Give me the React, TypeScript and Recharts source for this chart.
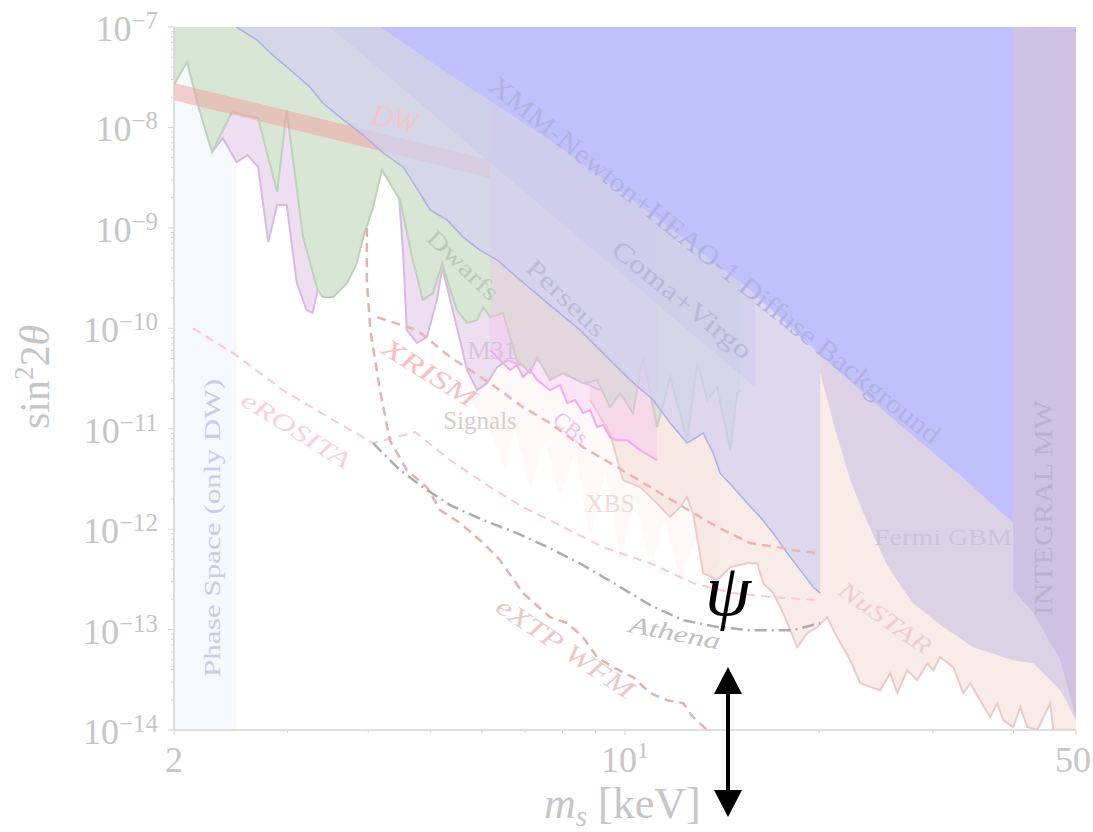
import React from 'react';
import { ComposedChart, Area, Line, XAxis, YAxis } from 'recharts';

// ---------- axes ----------
const yMajor = [1e-14, 1e-13, 1e-12, 1e-11, 1e-10, 1e-9, 1e-8, 1e-7];
const yExp = ['−14', '−13', '−12', '−11', '−10', '−9', '−8', '−7'];
const minorMult = [2, 3, 4, 5, 6, 7, 8, 9];
const yTicks = [...yMajor, ...yMajor.slice(0, 7).flatMap((d) => minorMult.map((k) => k * d))];
const xTicks = [2, 3, 4, 5, 6, 7, 8, 9, 10, 20, 30, 40, 50];
const xLabelValues = [2, 10, 50];
const xLabelBase = ['2', '10', '50'];
const xLabelSup = ['', '1', ''];

// ---------- regions (m_s [keV], sin^2 2theta) ; filled from the curve up to the top ----------
const phaseSpace = [[2, 1e-14], [2.5, 1e-14]];
const nustar = [
  [8.83, 1.93e-11], [9.48, 9.04e-12], [9.93, 3.08e-12], [10.56, 2.62e-12], [11.21, 1.81e-12], [11.75, 1.32e-12],
  [12.17, 1.66e-12], [12.48, 2.08e-12], [12.75, 1.44e-12], [13.22, 3.65e-13], [13.9, 3.1e-13], [14.56, 4.19e-13],
  [15.47, 4.58e-13], [16.03, 4.58e-13], [16.38, 2.9e-13], [16.97, 2.31e-13], [17.59, 1.46e-13], [18.49, 6.68e-14],
  [19.16, 9.21e-14], [19.86, 1.06e-13], [20.58, 1.33e-13], [21.32, 8.39e-14], [22.34, 4.95e-14], [23.15, 2.92e-14],
  [24.86, 2.49e-14], [25.77, 3.68e-14], [26.42, 2.33e-14], [27.38, 3.94e-14], [28.37, 3.13e-14], [29.41, 4.62e-14],
  [30.05, 3.94e-14], [30.79, 5.31e-14], [32.28, 4.22e-14], [33.45, 2.33e-14], [34.29, 2.92e-14], [35.51, 1.98e-14],
  [36.81, 1.34e-14], [37.76, 1.85e-14], [38.58, 1.25e-14], [39.96, 1.07e-14], [40.98, 1.69e-14], [42.02, 1.07e-14],
  [43.56, 1e-14], [45.61, 1.85e-14], [46.12, 1e-14], [50, 1e-14],
];
const xbs = [
  [5.75, 1.93e-11], [6.18, 9.68e-12], [6.52, 3.87e-12], [6.76, 9.68e-12], [7.13, 2.44e-12], [7.52, 7.69e-12],
  [7.93, 1.94e-12], [8.37, 6.12e-12], [8.83, 7.76e-13], [9.32, 3.87e-12], [9.83, 4.91e-13], [10.37, 1.94e-12],
  [10.94, 3.91e-13], [11.54, 1.23e-12], [12.17, 3.1e-13], [12.85, 7.76e-13], [13.55, 2.47e-13], [14.04, 4.91e-13],
];
const m31 = [
  [2.29, 5.69e-9], [2.38, 7.83e-9], [2.5, 4.52e-9], [2.6, 5.31e-9], [2.7, 4.04e-9], [2.8, 7.23e-10],
  [2.89, 1.69e-9], [2.99, 1.69e-9], [3.1, 2.82e-10], [3.21, 1.52e-10], [3.28, 1.42e-10], [3.34, 2.4e-10],
  [3.49, 4.78e-10], [3.75, 1.34e-9], [4.03, 2.67e-9], [4.2, 3.94e-9], [4.43, 3.94e-9], [4.53, 5.61e-10],
  [4.59, 9.59e-11], [4.76, 7.13e-11], [4.93, 8.17e-11], [5.11, 1.91e-10], [5.21, 3.98e-10], [5.36, 1.91e-10],
  [5.55, 7.62e-11], [5.69, 3.84e-11], [5.9, 2.42e-11], [6.11, 2.84e-11], [6.34, 4.11e-11], [6.57, 4.82e-11],
  [6.88, 4.3e-11], [7.39, 4.82e-11], [7.93, 3.66e-11], [9.15, 2.42e-11],
];
const dwarfs = [
  [2, 2.64e-8], [2.095, 4.48e-8], [2.19, 1.49e-8], [2.29, 5.69e-9], [2.46, 1.42e-8], [2.7, 1.24e-8],
  [2.89, 2.28e-9], [2.99, 1.49e-8], [3.17, 8.09e-10], [3.34, 2.4e-10], [3.4, 2.05e-10], [3.53, 2.05e-10],
  [3.71, 2.82e-10], [3.84, 4.46e-10], [3.93, 8.09e-10], [4.07, 1.61e-9], [4.2, 3.77e-9], [4.48, 1.89e-9],
  [4.69, 4.78e-10], [4.86, 1.91e-10], [5.04, 2.24e-10], [5.21, 4.46e-10], [5.3, 3.02e-10], [5.49, 1.52e-10],
  [5.69, 1.13e-10], [5.9, 1.21e-10], [6.03, 1.63e-10], [6.18, 1.29e-10], [6.47, 1.42e-10], [6.8, 4.82e-11],
  [7.13, 3.58e-11], [7.31, 5.16e-11], [7.65, 3.05e-11], [8.02, 3.58e-11], [8.61, 2.84e-11], [9.05, 3.05e-11],
  [9.48, 1.64e-11], [9.83, 2.26e-11], [10.29, 1.43e-11], [10.67, 5.16e-11], [11.21, 1.04e-11], [11.75, 3.27e-11],
  [12.48, 7.69e-12], [12.94, 4.5e-11], [13.41, 1.93e-11], [13.9, 2.59e-11], [14.56, 6.12e-12], [14.93, 2.26e-11],
  [15.09, 2.42e-11],
];
const cbs = [
  [6.18, 6.07e-11], [6.4, 4.82e-11], [6.64, 3.84e-11], [6.8, 4.3e-11], [6.95, 3.27e-11], [7.13, 3.84e-11],
  [7.31, 3.05e-11], [7.65, 2.42e-11], [7.93, 2.72e-11], [8.14, 1.8e-11], [8.37, 1.93e-11], [8.61, 1.43e-11],
  [8.83, 1.53e-11], [9.05, 1.04e-11], [9.25, 1.09e-11], [9.48, 8.24e-12], [9.72, 7.69e-12], [10.08, 7.69e-12],
  [10.56, 6.12e-12], [11.21, 4.86e-12],
];
const clusters = [
  [2.5, 1e-7], [2.69, 7.43e-8], [2.82, 5.51e-8], [3.03, 3.73e-8], [3.25, 2.52e-8], [3.4, 1.75e-8],
  [3.66, 1.19e-8], [3.93, 8.4e-9], [4.22, 5.56e-9], [4.53, 4.04e-9], [4.81, 2.22e-9], [4.99, 1.5e-9],
  [5.3, 1.2e-9], [5.61, 8.09e-10], [5.96, 6.01e-10], [6.34, 4.78e-10], [6.88, 3.02e-10], [7.65, 1.7e-10],
  [8.52, 9.59e-11], [9.48, 4.82e-11], [10.19, 3.05e-11], [11.06, 1.93e-11], [11.75, 1.14e-11], [12.48, 7.19e-12],
  [13.22, 9.04e-12], [13.7, 5.71e-12], [14.04, 3.61e-12], [14.71, 2.62e-12], [15.47, 1.81e-12], [16.2, 1.32e-12],
  [16.97, 9.12e-13], [17.84, 5.77e-13], [18.69, 3.91e-13], [19.58, 2.64e-13], [20.07, 2.31e-13],
];
const comaVirgo = [[3.49, 1e-7], [15.92, 2.59e-11]];
const fermi = [
  [20.07, 3.66e-11], [21.18, 9.68e-12], [22.34, 3.08e-12], [23.32, 1.55e-12], [24.25, 8.71e-13], [25.5, 4.38e-13],
  [26.7, 2.77e-13], [27.98, 1.83e-13], [31.14, 1.06e-13], [34.66, 6.68e-14], [39.96, 4.95e-14], [42.94, 4.62e-14],
  [47.27, 2.49e-14], [50, 1.25e-14],
];
const xmm = [
  [4.17, 1e-7], [5.36, 3.33e-8], [7.65, 7.5e-9], [10.94, 1.4e-9], [15.63, 2.4e-10], [20.07, 5.41e-11],
  [26.7, 1.09e-11], [33.07, 3.45e-12], [39.96, 1.15e-12], [50, 3.1e-13],
];
const integral = [[39.96, 2.47e-13], [42.94, 1.46e-13], [47.27, 4.95e-14], [50, 1.34e-14]];
const dwBand = [
  { x: 2, r: [1.87e-8, 2.77e-8] },
  { x: 6.18, r: [3.13e-9, 4.73e-9] },
];

// ---------- projected sensitivities (lines) ----------
const xrism = [
  [4.13, 1.29e-10], [4.76, 9.59e-11], [5.36, 5.16e-11], [6.18, 2.84e-11], [6.95, 1.64e-11], [7.65, 1.14e-11],
  [8.61, 6.56e-12], [9.72, 4.15e-12], [10.94, 2.62e-12], [12.31, 1.66e-12], [13.9, 1.05e-12], [15.63, 7.26e-13],
  [17.22, 6.62e-13], [18.23, 6.18e-13], [19.86, 5.77e-13],
];
const erosita = [
  [2.14, 1e-10], [2.47, 5.66e-11], [2.95, 2.42e-11], [3.53, 1.22e-11], [4.07, 7.19e-12], [4.4, 8.24e-12],
  [4.73, 9.24e-12], [5.36, 4.86e-12], [6.18, 2.62e-12], [6.95, 1.66e-12], [8.02, 1.05e-12], [9.25, 6.62e-13],
  [10.94, 4.58e-13], [12.75, 2.9e-13], [14.71, 2.31e-13], [16.97, 2.1e-13], [20.07, 1.96e-13],
];
const extp = [
  [3.98, 9.95e-10], [3.98, 3.02e-10], [4.03, 9.59e-11], [4.1, 4.82e-11], [4.17, 2.42e-11], [4.32, 7.69e-12],
  [4.59, 3.87e-12], [4.93, 2.62e-12], [5.17, 1.55e-12], [5.55, 1.15e-12], [6.03, 7.26e-13], [6.4, 4.91e-13],
  [6.95, 2.31e-13], [7.65, 1.33e-13], [8.14, 1.16e-13], [8.61, 8.39e-14], [9.05, 5.31e-14], [9.59, 4.22e-14],
  [10.29, 3.36e-14], [10.94, 2.33e-14], [11.62, 1.98e-14], [12.31, 1.85e-14], [12.75, 1.34e-14], [13.41, 1e-14],
];
const athena = [
  [4.07, 7.19e-12], [4.48, 3.87e-12], [4.86, 2.62e-12], [5.36, 1.73e-12], [6.03, 1.23e-12], [6.8, 9.12e-13],
  [7.65, 6.47e-13], [8.61, 4.38e-13], [9.72, 2.77e-13], [10.94, 1.75e-13], [12.31, 1.24e-13], [13.9, 1.06e-13],
  [15.63, 9.86e-14], [18.23, 9.86e-14], [20.07, 1.16e-13],
];

const pts = (a: number[][]) => a.map(([x, y]) => ({ x, y }));

const FONT = "'Liberation Serif', 'DejaVu Serif', serif";
const AXIS = '#d4d4d4';
const TXT = '#c6c6c6';
const W = 1093;
const H = 832;

const YTick = (props: any) => {
  const { x, y, payload } = props;
  const idx = yMajor.indexOf(payload.value);
  const major = idx >= 0;
  return (
    <g>
      <line x1={x - (major ? 6 : 3)} x2={x} y1={y} y2={y} stroke={AXIS} strokeWidth={1} />
      {major && (
        <text x={x - 16} y={y + 14} textAnchor="end" fill={TXT} fontFamily={FONT} fontSize={36}>
          10
          <tspan dy={-12} fontSize={25}>{yExp[idx]}</tspan>
        </text>
      )}
    </g>
  );
};

const XTick = (props: any) => {
  const { x, y, payload } = props;
  const idx = xLabelValues.indexOf(payload.value);
  const major = idx >= 0;
  return (
    <g>
      <line x1={x} x2={x} y1={y} y2={y + (major ? 5 : 3)} stroke={AXIS} strokeWidth={1} />
      {major && (
        <text x={idx === 2 ? x - 3 : x} y={y + 42} textAnchor="middle" fill={TXT} fontFamily={FONT} fontSize={36}>
          {xLabelBase[idx]}
          {xLabelSup[idx] && <tspan dy={-14} fontSize={24}>{xLabelSup[idx]}</tspan>}
        </text>
      )}
    </g>
  );
};

const areaCommon = {
  type: 'linear' as const,
  dataKey: 'y',
  baseValue: 'dataMax' as const,
  isAnimationActive: false,
  dot: false,
  activeDot: false,
};
const lineCommon = {
  type: 'linear' as const,
  dataKey: 'y',
  isAnimationActive: false,
  dot: false,
  activeDot: false,
};

const Lbl = ({ x, y, a = 0, s = 24, c, it = false, len, children }: any) => (
  <text
    x={x}
    y={y}
    transform={`rotate(${a} ${x} ${y})`}
    textAnchor="middle"
    dominantBaseline="central"
    fontFamily={FONT}
    fontSize={s}
    fontStyle={it ? 'italic' : 'normal'}
    fill={c}
    textLength={len}
    lengthAdjust={len ? 'spacingAndGlyphs' : undefined}
  >
    {children}
  </text>
);

export default function App() {
  return (
    <div style={{ position: 'fixed', left: 0, top: 0, width: W, height: H, background: '#fff' }}>
      <ComposedChart width={W} height={H} margin={{ top: 27, right: 17, bottom: 42, left: 0 }}>
        <XAxis
          dataKey="x"
          type="number"
          scale="log"
          domain={[2, 50]}
          allowDataOverflow
          ticks={xTicks}
          interval={0}
          height={60}
          tickSize={0}
          tickMargin={0}
          tickLine={false}
          tick={<XTick />}
          axisLine={{ stroke: AXIS, strokeWidth: 1.5 }}
        />
        <XAxis
          xAxisId="top"
          orientation="top"
          type="number"
          scale="log"
          domain={[2, 50]}
          allowDataOverflow
          height={0}
          tick={false}
          tickLine={false}
          axisLine={{ stroke: AXIS, strokeWidth: 1.5 }}
        />
        <YAxis
          type="number"
          scale="log"
          domain={[1e-14, 1e-7]}
          allowDataOverflow
          ticks={yTicks}
          interval={0}
          width={174}
          tickSize={0}
          tickMargin={0}
          tickLine={false}
          tick={<YTick />}
          axisLine={{ stroke: AXIS, strokeWidth: 1.5 }}
        />
        <YAxis
          yAxisId="right"
          orientation="right"
          type="number"
          scale="log"
          domain={[1e-14, 1e-7]}
          allowDataOverflow
          width={0}
          tick={false}
          tickLine={false}
          axisLine={{ stroke: AXIS, strokeWidth: 1.5 }}
        />

        <Area {...areaCommon} data={pts(phaseSpace)} fill="#f5f8fc" fillOpacity={1} stroke="none" />
        <Area {...areaCommon} data={pts(nustar)} fill="#f9ebe8" fillOpacity={1} stroke="#eccaca" strokeWidth={2} />
        <Area {...areaCommon} data={pts(xbs)} fill="#f2d4d4" fillOpacity={0.14} stroke="none" />
        <Area {...areaCommon} data={pts(m31)} fill="#eddef1" fillOpacity={1} stroke="#d8bcdf" strokeWidth={2} />
        <Area {...areaCommon} data={pts(dwarfs)} fill="#d9e5d5" fillOpacity={1} stroke="#bfd1bb" strokeWidth={2} />
        <Area {...areaCommon} data={pts(cbs)} fill="#f6bcf0" fillOpacity={0.35} stroke="#f4aaf2" strokeWidth={2} />
        <Area
          type="linear"
          data={dwBand}
          dataKey="r"
          fill="#f2a0a0"
          fillOpacity={0.5}
          stroke="none"
          isAnimationActive={false}
          dot={false}
          activeDot={false}
        />
        <Area {...areaCommon} data={pts(clusters)} fill="#d2d0f0" fillOpacity={0.72} stroke="#aeb0e6" strokeWidth={1.5} />
        <Area {...areaCommon} data={pts(comaVirgo)} fill="#b4b4f0" fillOpacity={0.2} stroke="none" />
        <Area {...areaCommon} data={pts(fermi)} fill="#ddd1e6" fillOpacity={1} stroke="none" />
        <Area {...areaCommon} data={pts(xmm)} fill="#c0c0fc" fillOpacity={1} stroke="none" />
        <Area {...areaCommon} data={pts(integral)} fill="#cfc1e3" fillOpacity={1} stroke="none" />

        <Line {...lineCommon} data={pts(xrism)} stroke="#eeb4b4" strokeWidth={2.5} strokeDasharray="9 6" />
        <Line {...lineCommon} data={pts(erosita)} stroke="#f9cad8" strokeWidth={2} strokeDasharray="9 6" />
        <Line {...lineCommon} data={pts(extp)} stroke="#dfb4b2" strokeWidth={2.5} strokeDasharray="9 6" />
        <Line {...lineCommon} data={pts(athena)} stroke="#adadad" strokeWidth={2.5} strokeDasharray="12 5 2 5" />
      </ComposedChart>

      <svg
        width={W}
        height={H}
        style={{ position: 'absolute', left: 0, top: 0, pointerEvents: 'none', overflow: 'visible' }}
      >
        <Lbl x={715} y={260} a={38.7} s={27} c="#b2b2e4" len={570}>XMM-Newton+HEAO-1 Diffuse Background</Lbl>
        <Lbl x={682} y={300} a={39} s={26} c="#b8b8dc" len={172}>Coma+Virgo</Lbl>
        <Lbl x={566} y={298} a={44} s={25} c="#bcbcda" len={100}>Perseus</Lbl>
        <Lbl x={463} y={265} a={44} s={24} c="#bccbb8" len={90}>Dwarfs</Lbl>
        <Lbl x={492} y={350} s={26} c="#d6c4dc">M31</Lbl>
        <Lbl x={395} y={118} a={12} s={30} c="#f4c8c8" it>DW</Lbl>
        <Lbl x={429} y={373} a={32} s={26} c="#f4c2c2" it len={106}>XRISM</Lbl>
        <Lbl x={480} y={420} s={25} c="#dccccc">Signals</Lbl>
        <Lbl x={571} y={428} a={40} s={22} c="#f2c2ec">CBs</Lbl>
        <Lbl x={296} y={430} a={32} s={24} c="#f9d2de" it len={124}>eROSITA</Lbl>
        <Lbl x={610} y={503} s={25} c="#eedcdc">XBS</Lbl>
        <Lbl x={675} y={633} a={11} s={24} c="#c0c0c0" it len={92}>Athena</Lbl>
        <Lbl x={565} y={648} a={34} s={26} c="#e8caca" it len={160}>eXTP WFM</Lbl>
        <Lbl x={885} y={618} a={35} s={24} c="#ecd0d0" it len={108}>NuSTAR</Lbl>
        <Lbl x={943} y={537} s={24} c="#d0c2dc" len={138}>Fermi GBM</Lbl>
        <Lbl x={1043} y={508} a={-90} s={26} c="#bfb0d4" len={215}>INTEGRAL MW</Lbl>
        <Lbl x={212} y={528} a={-90} s={24} c="#c8cce8" len={298}>Phase Space (only DW)</Lbl>

        <g transform="translate(49 377) rotate(-90)">
          <text x={0} y={0} textAnchor="middle" fontFamily={FONT} fontSize={42} fill={TXT}>
            sin<tspan dy={-16} fontSize={27}>2</tspan>
            <tspan dy={16} fontSize={42}>2</tspan>
            <tspan fontStyle="italic">θ</tspan>
          </text>
        </g>
        <text x={544} y={818} fontFamily={FONT} fontSize={44} fill={TXT}>
          <tspan fontStyle="italic">m</tspan>
          <tspan fontStyle="italic" fontSize={29} dy={8}>s</tspan>
          <tspan dy={-8}> [keV]</tspan>
        </text>

        <text x={728} y={615} textAnchor="middle" fontFamily={FONT} fontSize={74} fontStyle="italic" fill="#000">ψ</text>
        <line x1={728} x2={728} y1={691} y2={792} stroke="#000" strokeWidth={4} />
        <polygon points="728,667 714,694 742,694" fill="#000" />
        <polygon points="728,817 714,790 742,790" fill="#000" />
      </svg>
    </div>
  );
}
